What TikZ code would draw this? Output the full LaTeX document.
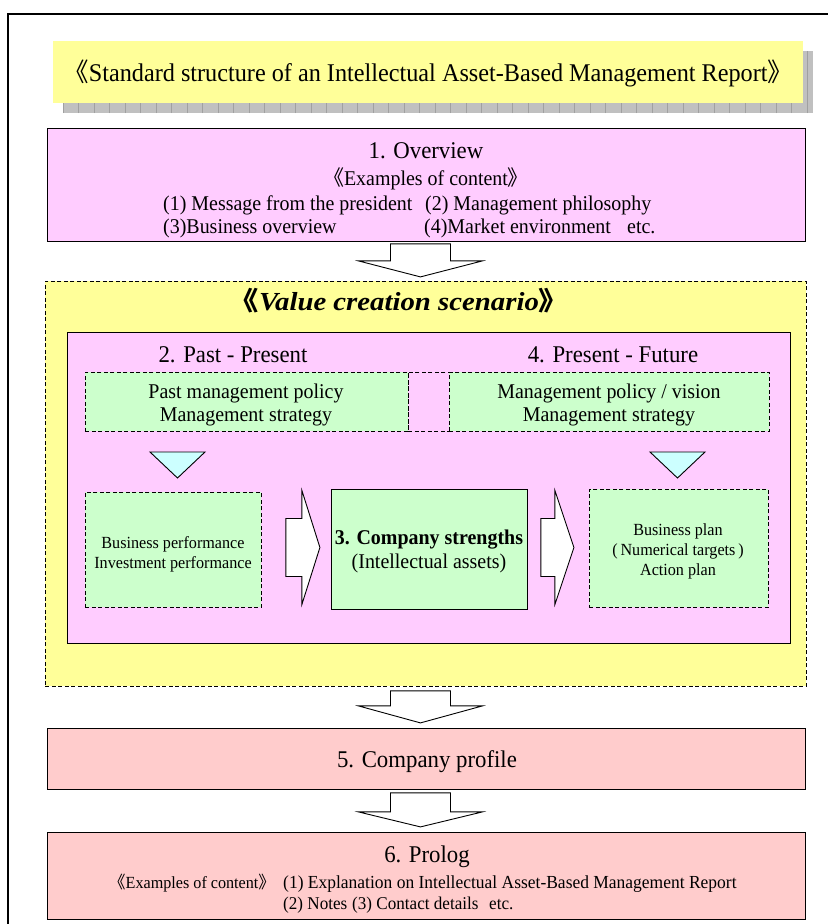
\documentclass[tikz,border=0pt]{standalone}
\usepackage{fontspec}
\setmainfont{Liberation Serif}[FakeStretch=0.95]
\newfontfamily\cjk{Noto Sans CJK JP}[RawFeature={+halt}]
\usetikzlibrary{calc}

\newcommand{\dlbr}{{\cjk 《}}
\newcommand{\drbr}{{\cjk 》}}
\newcommand{\fs}[1]{\fontsize{#1}{#1}\selectfont}

\definecolor{titleyellow}{HTML}{FFFF99}
\definecolor{scenyellow}{HTML}{FFFF99}
\definecolor{lilac}{HTML}{FFCCFF}
\definecolor{mint}{HTML}{CCFFCC}
\definecolor{aqua}{HTML}{CCFFFF}
\definecolor{rose}{HTML}{FFCCCC}
\definecolor{shadowgray}{HTML}{C0C0C0}
\definecolor{gridgray}{HTML}{A0A0A0}

\tikzset{
  panel/.style={draw=black, line width=0.9pt, inner sep=0pt, anchor=north west},
  dpanel/.style={panel, dash pattern=on 4pt off 2.5pt},
  txt/.style={inner sep=0pt, anchor=base},
  ltxt/.style={inner sep=0pt, anchor=base west},
  blk/.style={draw=black, line width=0.9pt, fill=white, line join=miter},
}

% hollow block arrow pointing down: start = top centre of the shaft
\newcommand{\vblockarrow}[3]{%
  \draw[blk] #1 ++(-30,0) -- ++(0,#2) -- ++(-32,0) -- ++(62,#3)
    -- ++(62,-#3) -- ++(-32,0) -- ++(0,-#2) -- cycle;}
% hollow block arrow pointing right: start = left centre of the shaft
\newcommand{\hblockarrow}[3]{%
  \draw[blk] #1 ++(0,-29) -- ++(#2,0) -- ++(0,-28) -- ++(#3,57)
    -- ++(-#3,57) -- ++(0,-28) -- ++(-#2,0) -- cycle;}

\begin{document}
\begin{tikzpicture}[x=1pt,y=-1pt]
\path[use as bounding box] (0,0) rectangle (828,924);
\fill[white] (0,0) rectangle (828,924);

% page frame
\draw[line width=1.3pt] (8,924) -- (8,14) -- (828,14);

% title banner with grid shadow
\fill[shadowgray] (63,51) rectangle (813,113);
\begin{scope}[shift={(63,51)}]
  \draw[gridgray, line width=0.5pt, step=15.5] (0,0) grid (750,62);
\end{scope}
\node[inner sep=0pt, anchor=north west, fill=titleyellow,
      minimum width=750pt, minimum height=62pt] (title) at (53,41) {};
\node[txt] at ($(title.center)+(0,9)$)
  {\fs{25.5}\dlbr Standard structure of an Intellectual Asset-Based Management Report\drbr};

% 1. Overview
\node[panel, fill=lilac, minimum width=758pt, minimum height=113pt] (ov) at (47,128) {};
\node[txt] at (426,158) {\fs{24}1. Overview};
\node[txt] at (426,185) {\fs{21}\dlbr Examples of content\drbr};
\node[ltxt] at (163,210) {\fs{21}(1) Message from the president};
\node[ltxt] at (425,210) {\fs{21}(2) Management philosophy};
\node[ltxt] at (163,233) {\fs{21}(3)Business overview};
\node[ltxt] at (424,233) {\fs{21}(4)Market environment};
\node[ltxt] at (627,233) {\fs{21}etc.};

% value creation scenario
\node[dpanel, fill=scenyellow, minimum width=761pt, minimum height=405pt] (vc) at (45,281) {};
\node[txt] at (399,310) {\scalebox{1.165}[1]{\fs{26}\bfseries\itshape\dlbr Value creation scenario\drbr}};
\node[panel, fill=lilac, minimum width=723pt, minimum height=311pt] (inner) at (67,332) {};
\node[txt] at (233,362) {\fs{24}2. Past - Present};
\node[txt] at (613,362) {\fs{24}4. Present - Future};

% policy boxes
\node[dpanel, fill=mint, minimum width=323pt, minimum height=59pt] (pastpol) at (85,372) {};
\node[dpanel, minimum width=41pt, minimum height=59pt] (gap) at (408,372) {};
\node[dpanel, fill=mint, minimum width=320pt, minimum height=59pt] (futpol) at (449,372) {};
\node[txt] at (246,398) {\fs{21}Past management policy};
\node[txt] at (246,421) {\fs{21}Management strategy};
\node[txt] at (609,398) {\fs{21}Management policy / vision};
\node[txt] at (609,421) {\fs{21}Management strategy};

% markers
\draw[draw=black, line width=0.9pt, fill=aqua] (150,452) -- (205,452) -- (177.5,478) -- cycle;
\draw[draw=black, line width=0.9pt, fill=aqua] (650,452) -- (705,452) -- (677.5,478) -- cycle;

% performance / strengths / plan
\node[dpanel, fill=mint, minimum width=176pt, minimum height=115pt] (perf) at (85,492) {};
\node[panel, fill=mint, minimum width=196pt, minimum height=120pt] (str) at (331,489) {};
\node[dpanel, fill=mint, minimum width=179pt, minimum height=118pt] (plan) at (589,489) {};
\node[txt] at (173,548) {\fs{17}Business performance};
\node[txt] at (173,568) {\fs{17}Investment performance};
\node[txt] at (429,544) {\fs{21}\bfseries 3. Company strengths};
\node[txt] at (429,568) {\fs{21}(Intellectual assets)};
\node[txt] at (678,535) {\fs{17}Business plan};
\node[txt] at (678,555) {\fs{17}(\,Numerical targets\,)};
\node[txt] at (678,575) {\fs{17}Action plan};

\hblockarrow{($(perf.east)+(24,-2.5)$)}{16}{18}
\hblockarrow{($(str.east)+(13,-2)$)}{14}{19}

% 5. Company profile
\node[panel, fill=rose, minimum width=758pt, minimum height=61pt] (prof) at (47,728) {};
\node[txt] at (427,767) {\fs{24}5. Company profile};

% 6. Prolog
\node[panel, fill=rose, minimum width=758pt, minimum height=87pt] (prol) at (47,832) {};
\node[txt] at (427,862) {\fs{24}6. Prolog};
\node[ltxt] at (117,888) {\fs{17}\dlbr Examples of content\drbr};
\node[ltxt] at (283,888) {\fs{18.4}(1) Explanation on Intellectual Asset-Based Management Report};
\node[ltxt] at (283,909) {\fs{18}(2) Notes};
\node[ltxt] at (352,909) {\fs{18}(3) Contact details};
\node[ltxt] at (489,909) {\fs{18}etc.};

% flow arrows between sections
\vblockarrow{($(ov.south)+(-6,2)$)}{17}{16}
\vblockarrow{($(vc.south)+(-5.5,4)$)}{15}{17}
\vblockarrow{($(prof.south)+(-6,3)$)}{19}{15}
\end{tikzpicture}
\end{document}
